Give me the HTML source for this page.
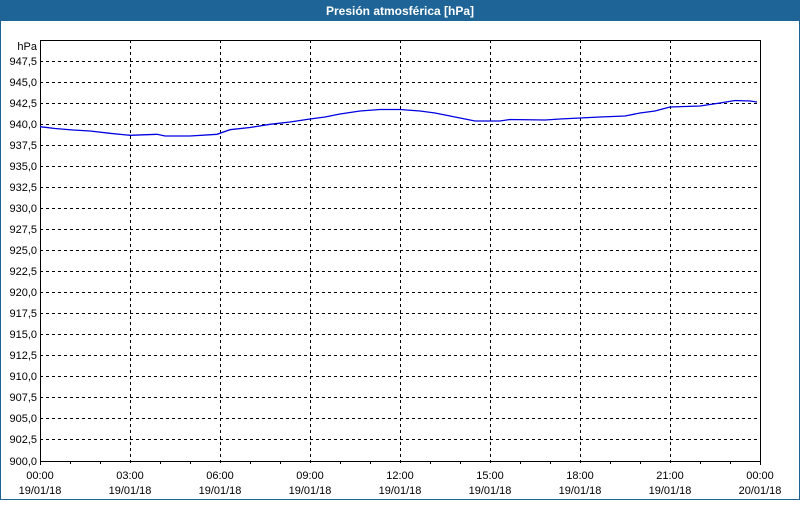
<!DOCTYPE html>
<html><head><meta charset="utf-8"><style>
body{margin:0;width:800px;height:500px;overflow:hidden;background:#fff;font-family:"Liberation Sans",sans-serif}
</style></head><body>
<svg width="800" height="500" xmlns="http://www.w3.org/2000/svg" font-family="Liberation Sans, sans-serif" font-size="11">
<rect x="0" y="0" width="800" height="500" fill="#fff"/>
<rect x="0.5" y="0.5" width="799" height="499" fill="none" stroke="#1e6496"/>
<rect x="0" y="0" width="800" height="21" fill="#1e6496"/>
<text x="400" y="15" fill="#fff" font-weight="bold" font-size="12" text-anchor="middle">Presión atmosférica [hPa]</text>
<g stroke="#000" stroke-dasharray="3,3" stroke-width="1">
<line x1="40" x2="760" y1="61.5" y2="61.5"/><line x1="40" x2="760" y1="82.5" y2="82.5"/><line x1="40" x2="760" y1="103.5" y2="103.5"/><line x1="40" x2="760" y1="124.5" y2="124.5"/><line x1="40" x2="760" y1="145.5" y2="145.5"/><line x1="40" x2="760" y1="166.5" y2="166.5"/><line x1="40" x2="760" y1="187.5" y2="187.5"/><line x1="40" x2="760" y1="208.5" y2="208.5"/><line x1="40" x2="760" y1="229.5" y2="229.5"/><line x1="40" x2="760" y1="250.5" y2="250.5"/><line x1="40" x2="760" y1="271.5" y2="271.5"/><line x1="40" x2="760" y1="292.5" y2="292.5"/><line x1="40" x2="760" y1="313.5" y2="313.5"/><line x1="40" x2="760" y1="334.5" y2="334.5"/><line x1="40" x2="760" y1="355.5" y2="355.5"/><line x1="40" x2="760" y1="376.5" y2="376.5"/><line x1="40" x2="760" y1="397.5" y2="397.5"/><line x1="40" x2="760" y1="418.5" y2="418.5"/><line x1="40" x2="760" y1="439.5" y2="439.5"/>
<line x1="130.5" x2="130.5" y1="40" y2="465"/><line x1="220.5" x2="220.5" y1="40" y2="465"/><line x1="310.5" x2="310.5" y1="40" y2="465"/><line x1="400.5" x2="400.5" y1="40" y2="465"/><line x1="490.5" x2="490.5" y1="40" y2="465"/><line x1="580.5" x2="580.5" y1="40" y2="465"/><line x1="670.5" x2="670.5" y1="40" y2="465"/>
</g>
<rect x="40.5" y="40.5" width="720" height="421" fill="none" stroke="#000"/>
<g stroke="#000">
<path d="M70.5 461v3M100.5 461v3M160.5 461v3M190.5 461v3M250.5 461v3M280.5 461v3M340.5 461v3M370.5 461v3M430.5 461v3M460.5 461v3M520.5 461v3M550.5 461v3M610.5 461v3M640.5 461v3M700.5 461v3M730.5 461v3M40.5 461v4M760.5 461v4"/>
</g>
<polyline fill="none" stroke="#0000e0" stroke-width="1.3" points="40,126.7 55,128.5 73,130 90,131 110,133.3 130,135.3 157,134.3 165,136 190,136 217,134.3 230,129.7 250,127.5 270,124.3 290,122 310,119 325,117 340,114 360,111 380,109.5 400,109.5 420,111 435,113 450,116 465,119 475,121 500,121 510,119.5 545,120 560,119 580,118 600,117 625,116 640,113 655,111 670,107 700,106 720,103 735,100.5 750,101 757,102"/>
<g text-anchor="end" fill="#000">
<text x="37" y="50">hPa</text>
<text x="37" y="65">947,5</text><text x="37" y="86">945,0</text><text x="37" y="107">942,5</text><text x="37" y="128">940,0</text><text x="37" y="149">937,5</text><text x="37" y="170">935,0</text><text x="37" y="191">932,5</text><text x="37" y="212">930,0</text><text x="37" y="233">927,5</text><text x="37" y="254">925,0</text><text x="37" y="275">922,5</text><text x="37" y="296">920,0</text><text x="37" y="317">917,5</text><text x="37" y="338">915,0</text><text x="37" y="359">912,5</text><text x="37" y="380">910,0</text><text x="37" y="401">907,5</text><text x="37" y="422">905,0</text><text x="37" y="443">902,5</text><text x="37" y="465">900,0</text>
</g>
<g text-anchor="middle" fill="#000">
<text x="40" y="479">00:00</text><text x="40" y="494">19/01/18</text>
<text x="130" y="479">03:00</text><text x="130" y="494">19/01/18</text>
<text x="220" y="479">06:00</text><text x="220" y="494">19/01/18</text>
<text x="310" y="479">09:00</text><text x="310" y="494">19/01/18</text>
<text x="400" y="479">12:00</text><text x="400" y="494">19/01/18</text>
<text x="490" y="479">15:00</text><text x="490" y="494">19/01/18</text>
<text x="580" y="479">18:00</text><text x="580" y="494">19/01/18</text>
<text x="670" y="479">21:00</text><text x="670" y="494">19/01/18</text>
<text x="760" y="479">00:00</text><text x="760" y="494">20/01/18</text>
</g>
</svg>
</body></html>
